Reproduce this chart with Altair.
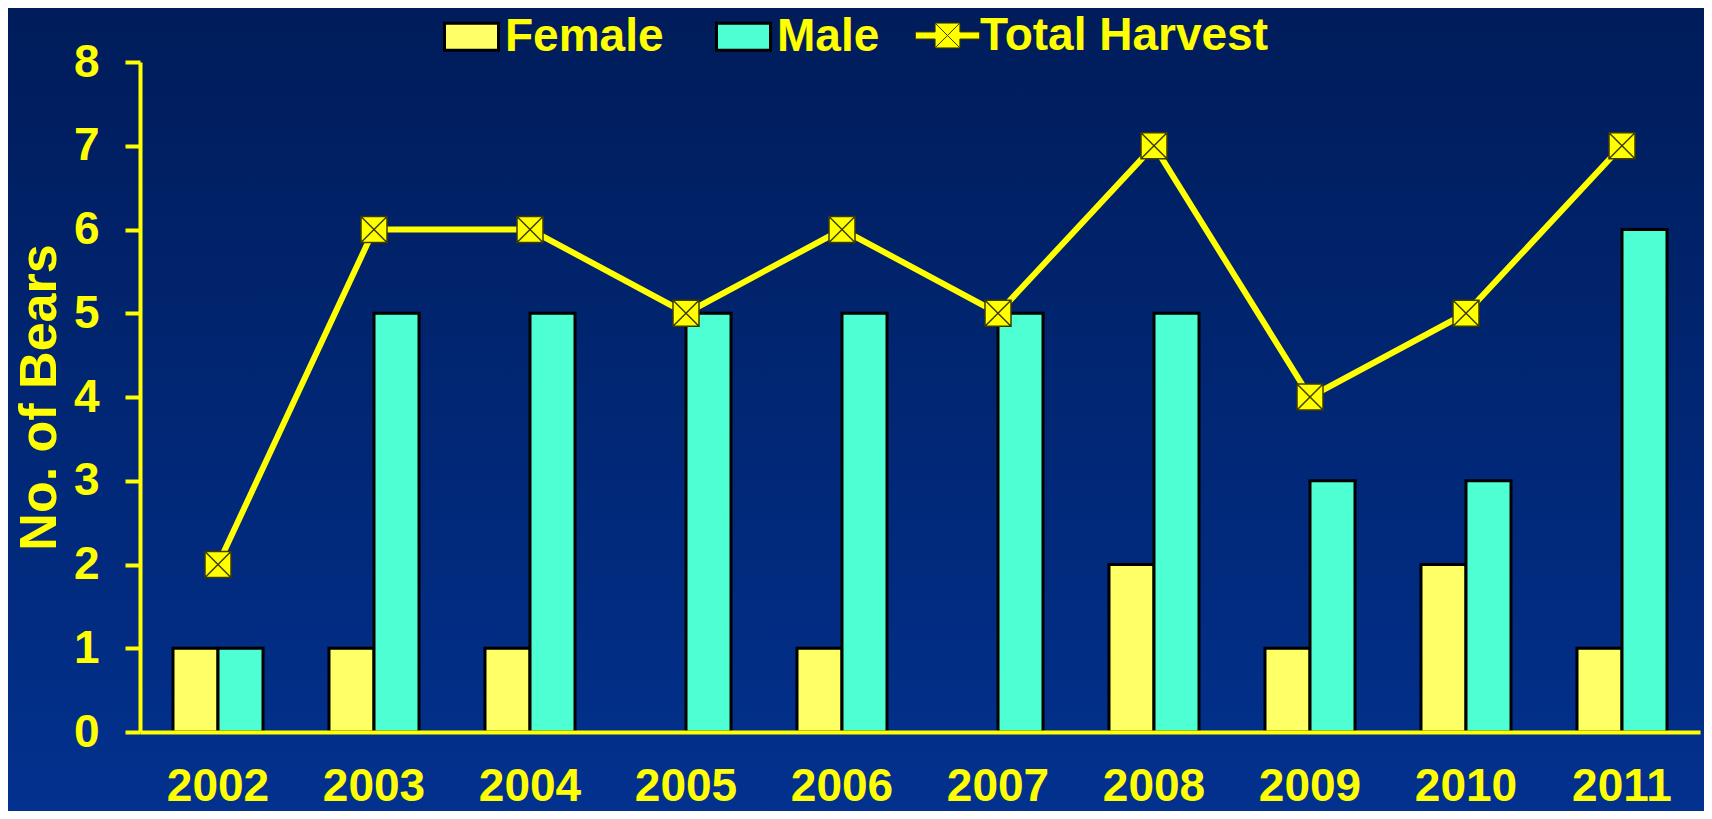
import altair as alt
import pandas as pd

years = ["2002", "2003", "2004", "2005", "2006", "2007", "2008", "2009", "2010", "2011"]
female = [1, 1, 1, 0, 1, 0, 2, 1, 2, 1]
male = [1, 5, 5, 5, 5, 5, 5, 3, 3, 6]
total = [2, 6, 6, 5, 6, 5, 7, 4, 5, 7]
bar_series = ["Female", "Male"]
bar_colors = ["#FFFF66", "#4DFFD2"]
line_series = ["Total Harvest"]
line_colors = ["#FFFF00"]
y_ticks = [0, 1, 2, 3, 4, 5, 6, 7, 8]

rows = []
for i, yr in enumerate(years):
    if female[i] > 0:
        rows.append({"year": yr, "series": "Female", "value": female[i]})
    if male[i] > 0:
        rows.append({"year": yr, "series": "Male", "value": male[i]})
bars_df = pd.DataFrame(rows)
total_df = pd.DataFrame({"year": years, "value": total, "label": ["Total Harvest"] * len(years)})

FONT = "Liberation Sans"
YELLOW = "#FFFF00"
W, H = 1560, 670
PAD = {"left": 132, "top": 54, "right": 4, "bottom": 79}

BOX_PATH = "M-1,-0.5H1V0.5H-1Z"
TH_PATH = ("M-1.19,-0.13H-0.46V-0.46H0.46V-0.13H1.19V0.13H0.46V0.46H-0.46V0.13H-1.19Z"
           "M-0.46,-0.46L0.46,0.46M0.46,-0.46L-0.46,0.46")
MARK_PATH = "M-1,-1H1V1H-1ZM-1,-1L1,1M1,-1L-1,1"

legend_common = dict(
    title=None, orient="none", direction="horizontal", padding=0,
    symbolSize=54 * 54, labelOffset=5, columnPadding=46,
    labelFont=FONT, labelFontSize=46, labelFontWeight="bold", labelColor=YELLOW,
    labelLimit=0, symbolOpacity=1,
)

x_enc = alt.X(
    "year:N",
    sort=years,
    scale=alt.Scale(paddingInner=0, paddingOuter=0),
    axis=alt.Axis(
        title=None, ticks=False, tickSize=0, labelAngle=0,
        labelFont=FONT, labelFontSize=46, labelFontWeight="bold", labelColor=YELLOW,
        labelPadding=32, domainColor=YELLOW, domainWidth=4, zindex=1,
    ),
)
y_scale = alt.Scale(domain=[0, 8], nice=False)

bg = alt.Chart(pd.DataFrame({"k": [0]})).mark_rect(
    clip=False,
    color=alt.LinearGradient(
        gradient="linear", x1=0, y1=0, x2=0, y2=1,
        stops=[alt.GradientStop(offset=0, color="#001C5A"),
               alt.GradientStop(offset=1, color="#02318E")],
    ),
).encode(
    x=alt.value(-PAD["left"]), x2=alt.value(W + PAD["right"]),
    y=alt.value(-PAD["top"]), y2=alt.value(H + PAD["bottom"]),
)

bars = alt.Chart(bars_df).mark_bar(stroke="black", strokeWidth=3, opacity=1).encode(
    x=x_enc,
    xOffset=alt.XOffset("series:N", scale=alt.Scale(domain=bar_series, paddingInner=0, paddingOuter=0.733)),
    y=alt.Y(
        "value:Q", scale=y_scale,
        axis=alt.Axis(
            values=y_ticks, grid=False, format="d",
            labelFont=FONT, labelFontSize=46, labelFontWeight="bold", labelColor=YELLOW,
            labelPadding=26, tickColor=YELLOW, tickWidth=4, tickSize=15,
            domainColor=YELLOW, domainWidth=4, zindex=1,
            title="No. of Bears", titleFont=FONT, titleFontSize=52, titleFontWeight="bold",
            titleColor=YELLOW, titleAngle=270, titleX=-101, titleY=335,
            titleAlign="center", titleBaseline="middle",
        ),
    ),
    color=alt.Color(
        "series:N",
        scale=alt.Scale(domain=bar_series, range=bar_colors),
        legend=alt.Legend(
            legendX=303, legendY=-54,
            symbolType=BOX_PATH, symbolStrokeColor="#000000", symbolStrokeWidth=3,
            **legend_common,
        ),
    ),
)

line = alt.Chart(total_df).mark_line(color=YELLOW, strokeWidth=6).encode(
    x=alt.X("year:N", sort=years),
    y=alt.Y("value:Q", scale=y_scale),
)

points = alt.Chart(total_df).mark_point(
    shape=MARK_PATH, filled=True, stroke="#3d3d00", strokeWidth=1.5,
    size=26 * 26, opacity=1,
).encode(
    x=alt.X("year:N", sort=years),
    y=alt.Y("value:Q", scale=y_scale),
    fill=alt.Fill(
        "label:N",
        scale=alt.Scale(domain=line_series, range=line_colors),
        legend=alt.Legend(
            legendX=780, legendY=-54,
            symbolType=TH_PATH, symbolStrokeColor="#3d3d00", symbolStrokeWidth=1,
            **legend_common,
        ),
    ),
)

chart = alt.layer(bg, bars, line, points).properties(
    width=W, height=H,
    autosize=alt.AutoSizeParams(type="none"),
    padding=PAD,
    background="#001C5A",
).configure_view(stroke=None)

chart.save("out.html", embed_options={"renderer": "svg", "actions": False})
